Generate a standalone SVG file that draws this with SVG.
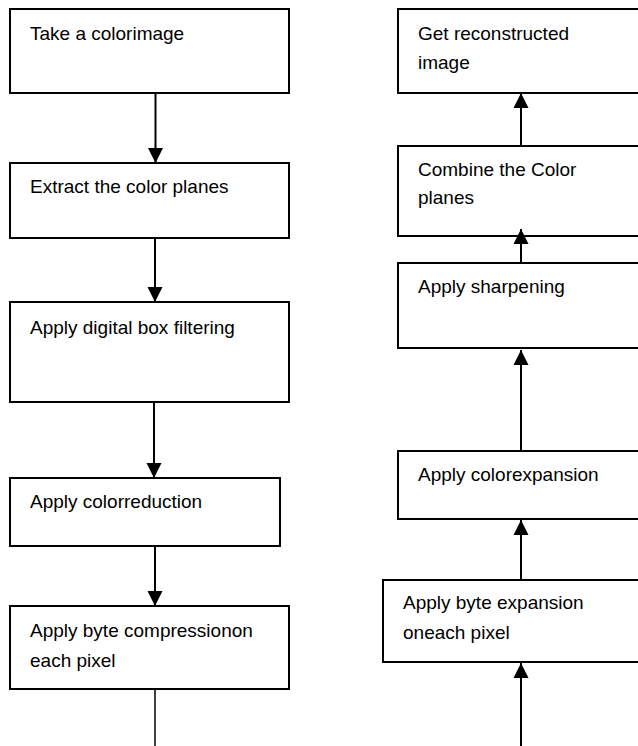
<svg xmlns="http://www.w3.org/2000/svg" width="638" height="746" viewBox="0 0 638 746">
<style>
.box{fill:#fff;stroke:#000;stroke-width:2}
.lbl{font-family:"Liberation Sans",Arial,sans-serif;font-size:19px;fill:#000}
.con{stroke:#000;stroke-width:2;fill:none}
.thin{stroke:#000;stroke-width:1.5;fill:none}
</style>
<defs>
<marker id="ah" markerUnits="userSpaceOnUse" markerWidth="16" markerHeight="16" viewBox="0 0 16 16" refX="15" refY="8" orient="auto">
<path d="M0,0.5 L15,8 L0,15.5 Z" fill="#000"/>
</marker>
</defs>
<rect width="638" height="746" fill="#fff"/>
<g id="n1"><rect class="box" x="10" y="9" width="279" height="84"/><text class="lbl" x="30" y="40">Take a colorimage</text></g>
<g id="n2"><rect class="box" x="10" y="163" width="279" height="75"/><text class="lbl" x="30" y="193">Extract the color planes</text></g>
<g id="n3"><rect class="box" x="10" y="302" width="279" height="100"/><text class="lbl" x="30" y="334">Apply digital box filtering</text></g>
<g id="n4"><rect class="box" x="10" y="478" width="270" height="68"/><text class="lbl" x="30" y="508">Apply colorreduction</text></g>
<g id="n5"><rect class="box" x="10" y="606" width="279" height="83"/><text class="lbl" x="30" y="637">Apply byte compressionon</text><text class="lbl" x="30" y="667">each pixel</text></g>
<g id="r1"><rect class="box" x="398" y="9" width="241" height="84"/><text class="lbl" x="418" y="40">Get reconstructed</text><text class="lbl" x="418" y="69">image</text></g>
<g id="r2"><rect class="box" x="398" y="146" width="241" height="90"/><text class="lbl" x="418" y="176">Combine the Color</text><text class="lbl" x="418" y="204">planes</text></g>
<g id="r3"><rect class="box" x="398" y="263" width="241" height="85"/><text class="lbl" x="418" y="293">Apply sharpening</text></g>
<g id="r4"><rect class="box" x="398" y="451" width="241" height="68"/><text class="lbl" x="418" y="481">Apply colorexpansion</text></g>
<g id="r5"><rect class="box" x="383" y="580" width="256" height="82"/><text class="lbl" x="403" y="609">Apply byte expansion</text><text class="lbl" x="403" y="639">oneach pixel</text></g>
<g id="connectors">
<line class="con" x1="155.5" y1="93" x2="155.5" y2="163" marker-end="url(#ah)"/>
<line class="con" x1="155" y1="238" x2="155" y2="302" marker-end="url(#ah)"/>
<line class="con" x1="154" y1="402" x2="154" y2="478" marker-end="url(#ah)"/>
<line class="con" x1="155" y1="546" x2="155" y2="606" marker-end="url(#ah)"/>
<line class="thin" x1="155" y1="689" x2="155" y2="746"/>
<line class="con" x1="521" y1="146" x2="521" y2="93" marker-end="url(#ah)"/>
<line class="con" x1="521" y1="263" x2="521" y2="229" marker-end="url(#ah)"/>
<line class="con" x1="521" y1="451" x2="521" y2="350" marker-end="url(#ah)"/>
<line class="con" x1="521" y1="580" x2="521" y2="520" marker-end="url(#ah)"/>
<line class="con" x1="521" y1="746" x2="521" y2="663" marker-end="url(#ah)"/>
</g>
</svg>
